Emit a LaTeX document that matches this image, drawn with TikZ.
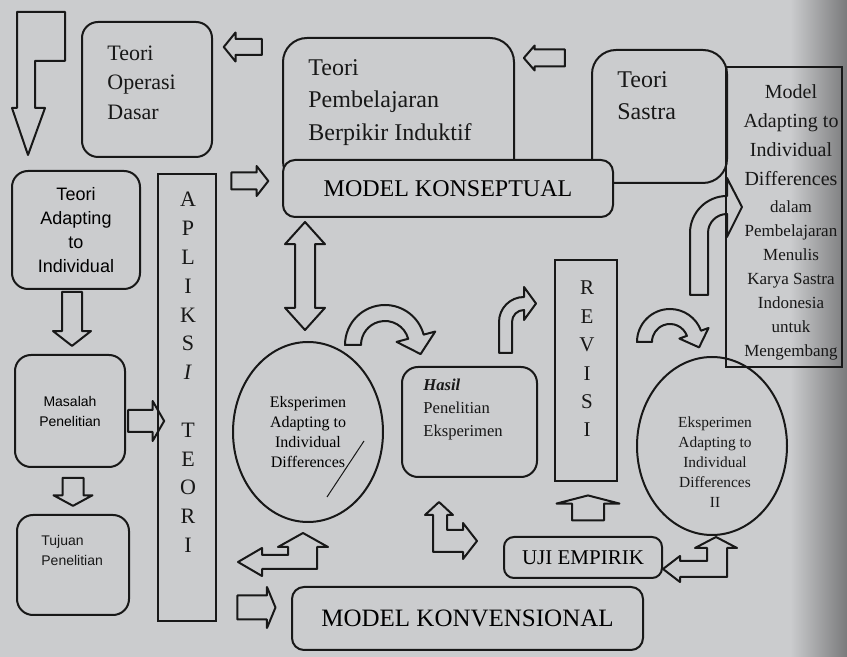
\documentclass[tikz,border=0pt]{standalone}
\usepackage{fontspec}
\setmainfont{Liberation Serif}
\newfontfamily\sansfont{Liberation Sans}
\usetikzlibrary{shapes.geometric}
\usetikzlibrary{shapes.arrows}
\definecolor{paper}{RGB}{203,204,206}
\definecolor{ink}{RGB}{24,24,24}

\begin{document}
\begin{tikzpicture}[x=.5pt, y=-.5pt,
    box/.style={draw=ink, line width=1pt, rounded corners=8pt, fill=paper, inner sep=0pt},
    bar/.style={draw=ink, line width=1pt, inner sep=0pt},
    circ/.style={ellipse, draw=ink, line width=1pt, inner sep=0pt},
    txt/.style={inner sep=0pt, text=ink},
    blk/.style={draw=ink, line width=1pt, line join=round},
    barrow/.style n args={4}{single arrow, blk, inner sep=0pt, minimum height=#1*.5pt,
        inner ysep=#2*.25pt, minimum width=#3*.5pt,
        single arrow head extend={(#3-#2)*.25pt}, single arrow tip angle=#4},
    dbarrow/.style n args={4}{double arrow, blk, inner sep=0pt, minimum height=#1*.5pt,
        inner ysep=#2*.25pt, minimum width=#3*.5pt,
        double arrow head extend={(#3-#2)*.25pt}, double arrow tip angle=#4},
]
\useasboundingbox (0,0) rectangle (847,657);
\fill[paper] (0,0) rectangle (847,657);
\shade[left color=paper, right color=paper!60!black] (790,0) rectangle (847,657);

% top row
\node[box, minimum width=65pt, minimum height=67.5pt] (opd) at (147,89.5) {};
\node[txt, font=\fontsize{11}{14.75}\selectfont, align=left, anchor=west] (opdtext) at (107,82.5) {Teori\\Operasi\\Dasar};
\node[box, rounded corners=12pt, minimum width=115.5pt, minimum height=73.5pt] (tpb) at (398.5,111.5) {};
\node[txt, font=\fontsize{12}{16.25}\selectfont, align=left, anchor=west] (tpbtext) at (308,102.5) {Teori\\Pembelajaran\\Berpikir Induktif};
\node[box, rounded corners=12pt, minimum width=67.5pt, minimum height=66.5pt] (ts) at (659.5,116.5) {};
\node[txt, font=\fontsize{12}{16}\selectfont, align=left, anchor=west] (tstext) at (617,96) {Teori\\Sastra};
\node[box, rounded corners=6pt, minimum width=165pt, minimum height=28.5pt, font=\fontsize{12}{14}\selectfont] (konsep) at (448,188.5) {MODEL KONSEPTUAL};
\node[bar, minimum width=58pt, minimum height=150pt] (madap) at (784,217) {};
\node[txt, font=\fontsize{8.5}{12}\selectfont, align=center] (madaptext) at (791,222) {{\fontsize{10}{12}\selectfont Model}\\[2.5pt]{\fontsize{10}{12}\selectfont Adapting to}\\[2.5pt]{\fontsize{10}{12}\selectfont Individual}\\[2.5pt]{\fontsize{10}{12}\selectfont Differences}\\[1.5pt]dalam\\Pembelajaran\\Menulis\\Karya Sastra\\Indonesia\\untuk\\Mengembang};

% left column
\node[box, minimum width=64pt, minimum height=59pt, font=\sansfont\fontsize{9}{12}\selectfont, align=center] (tadapt) at (76,230) {Teori\\Adapting\\to\\Individual};
\node[box, minimum width=55pt, minimum height=56pt, font=\sansfont\fontsize{7}{10}\selectfont, align=center] (masalah) at (70,411) {Masalah\\Penelitian};
\node[box, minimum width=56pt, minimum height=50pt] (tujuan) at (73,565) {};
\node[txt, font=\sansfont\fontsize{7}{10}\selectfont, align=left, anchor=west] (tujuantext) at (41,550) {Tujuan\\Penelitian};
\node[bar, minimum width=29pt, minimum height=223.5pt] (aplik) at (187,397.5) {};
\node[txt, font=\fontsize{11}{14.4}\selectfont, align=center] (apliktext) at (188,372.5) {A\\P\\L\\I\\K\\S\\\textit{I}\\[14.4pt]T\\E\\O\\R\\I};

% middle
\node[circ, minimum width=75pt, minimum height=90pt, font=\fontsize{8}{10}\selectfont, align=center] (eks1) at (308,432) {Eksperimen\\Adapting to\\Individual\\Differences};
\draw[ink, line width=.5pt] (327,497) -- (364,441);
\node[box, minimum width=67.5pt, minimum height=55pt] (hasil) at (469.5,422) {};
\node[txt, font=\fontsize{8.3}{11.5}\selectfont, align=left, anchor=west] (hasiltext) at (423,410) {\textit{\textbf{Hasil}}\\Penelitian\\Eksperimen};
\node[bar, minimum width=31pt, minimum height=110.5pt] (revisi) at (586,370.5) {};
\node[txt, font=\fontsize{10.5}{14.2}\selectfont, align=center] (revisitext) at (587,359) {R\\E\\V\\I\\S\\I};
\node[circ, minimum width=75pt, minimum height=89pt] (eks2) at (712,446) {};
\node[txt, font=\fontsize{7.7}{10}\selectfont, align=center] (eks2text) at (715,462) {Eksperimen\\Adapting to\\Individual\\Differences\\II};
\node[box, rounded corners=5pt, minimum width=79pt, minimum height=20.5pt, font=\fontsize{10.5}{12}\selectfont] (uji) at (583,557.5) {UJI EMPIRIK};
\node[box, rounded corners=6pt, minimum width=175.5pt, minimum height=31.5pt, font=\fontsize{12.5}{14}\selectfont] (konven) at (467.5,618.5) {MODEL KONVENSIONAL};

% straight block arrows
\node[barrow={38}{14}{27}{102}, rotate=180] (arr1) at (246,47) {};
\node[barrow={41}{15}{23}{98}, rotate=180] (arr2) at (548,58) {};
\node[barrow={37}{15}{28}{104}] (arr3) at (246.5,181) {};
\node[barrow={54}{18}{36}{104}, rotate=-90] (arr4) at (72,315) {};
\node[barrow={36}{20}{38}{120}] (arr5) at (143,421) {};
\node[barrow={28}{19}{37}{123}, rotate=-90] (arr6) at (73,489) {};
\node[barrow={38}{22}{39}{135}] (arr7) at (254,607.5) {};
\node[dbarrow={108}{18}{38}{84}, rotate=90] (arr8) at (305,276) {};
\node[barrow={25}{30}{61}{151}, rotate=90] (arr9) at (588,510) {};

% bent block arrows
\draw[blk] (17,12) -- (65,12) -- (65,61) -- (35,61) -- (35,108) -- (45,108) -- (28,155) -- (12,108) -- (17,108) -- cycle;
\draw[blk] (238,562) -- (262,548) -- (262,555) -- (288,555) -- (288,547) -- (278,547) -- (303,533) -- (328,547) -- (317,547) -- (317,569) -- (262,569) -- (262,576) -- cycle;
\draw[blk] (439,502) -- (453,515) -- (447,515) -- (447,530) -- (463,530) -- (463,523) -- (477,541) -- (463,559) -- (463,552) -- (433,552) -- (433,515) -- (425,515) -- cycle;
\draw[blk] (716,537) -- (737,548) -- (727,548) -- (727,577) -- (680,577) -- (680,582) -- (663,569) -- (680,556) -- (680,561) -- (707,561) -- (707,548) -- (695,548) -- cycle;

% curved block arrows
\begin{scope}[shift={(385,345)}, yscale=-1]
\draw[blk] (-40,0) arc[start angle=180, end angle=15, radius=40] -- (50.23,13.46) -- (35.6,-9.1) -- (11.59,3.11) -- (23.18,6.21) arc[start angle=15, end angle=180, radius=24] -- cycle;
\end{scope}
\begin{scope}[shift={(670,342)}, yscale=-1]
\draw[blk] (-33,0) arc[start angle=180, end angle=20, radius=33] -- (38.53,14.02) -- (29.1,-5.4) -- (9.4,3.42) -- (16.91,6.16) arc[start angle=20, end angle=180, radius=18] -- cycle;
\end{scope}
\begin{scope}[shift={(524,322)}, yscale=-1]
\draw[blk] (-25,-31) -- (-25,0) arc[start angle=180, end angle=90, radius=25] -- (0,35) -- (12,18.5) -- (0,2) -- (0,12) arc[start angle=90, end angle=180, radius=12] -- (-12,-31) -- cycle;
\end{scope}
\begin{scope}[shift={(727,233)}, yscale=-1]
\draw[blk] (-37,-62) -- (-37,0) arc[start angle=180, end angle=90, radius=37] -- (0,55) -- (15,26) -- (0,-4) -- (0,19) arc[start angle=90, end angle=180, radius=19] -- (-19,-62) -- cycle;
\end{scope}

\end{tikzpicture}
\end{document}
